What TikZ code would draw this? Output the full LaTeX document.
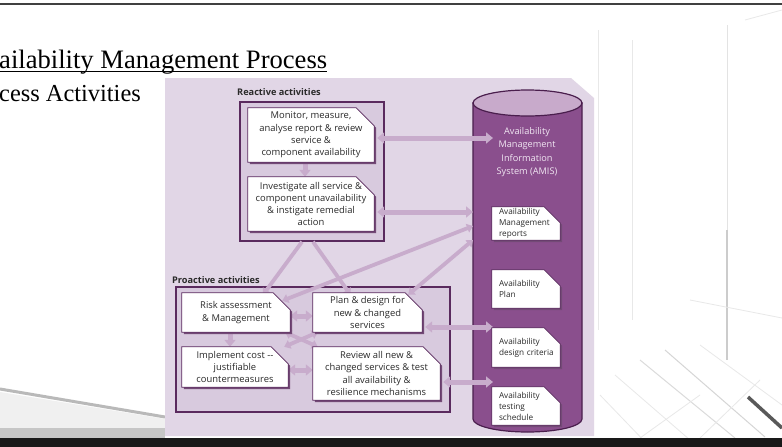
\documentclass[tikz,border=0pt]{standalone}
\usepackage{fontspec}
\setmainfont{Liberation Serif}
\newfontfamily\dsans{Open Sans}
\usetikzlibrary{arrows.meta,calc}
\hbadness=10000
\hfuzz=20pt
\pgfdeclarelayer{back}
\pgfdeclarelayer{mid}
\pgfdeclarelayer{arr}
\pgfdeclarelayer{boxl}
\pgfsetlayers{back,mid,arr,boxl,main}
\definecolor{panel}{HTML}{E1D6E6}
\definecolor{framein}{HTML}{D8CADE}
\definecolor{dpurp}{HTML}{5A2A5E}
\definecolor{dpurpd}{HTML}{4A1E4D}
\definecolor{cylc}{HTML}{8A4F8D}
\definecolor{cyltop}{HTML}{C8AACB}
\definecolor{arrc}{HTML}{C8ACCC}
\definecolor{amistext}{HTML}{F0E6F2}
\definecolor{txt}{HTML}{2A2A2A}
\newcommand\cutshape[2][16]{%
  \begin{pgfonlayer}{boxl}
    \fill[dpurp!85] ([shift={(2pt,-2pt)}]#2.south west) -- ([shift={(2pt,-2pt)}]#2.north west)
      -- ([shift={(2pt-#1pt,-2pt)}]#2.north east) -- ([shift={(2pt,-2pt-#1pt)}]#2.north east)
      -- ([shift={(2pt,-2pt)}]#2.south east) -- cycle;
    \draw[dpurp, fill=white, line width=0.7pt] (#2.south west) -- (#2.north west)
      -- ([xshift=-#1pt]#2.north east) -- ([yshift=-#1pt]#2.north east)
      -- (#2.south east) -- cycle;
  \end{pgfonlayer}}
\tikzset{
  bx/.style={draw=none, inner sep=0pt, align=center, text=txt,
    font=\dsans\fontsize{9.4}{12.3}\selectfont},
  doc/.style={draw=none, inner xsep=7pt, inner ysep=0pt, align=left, text width=54pt,
    minimum width=68pt, text=txt, font=\dsans\fontsize{8.2}{11}\selectfont},
  framebox/.style={draw=dpurp, fill=framein, line width=1.6pt, inner sep=0pt},
  lab/.style={anchor=west, inner sep=0pt, text=txt, font=\dsans\bfseries\fontsize{9.2}{10}\selectfont},
  fat/.style={draw=arrc, line width=5pt},
  thin/.style={draw=arrc, line width=3.8pt},
  hd/.tip={Triangle[width=11pt,length=7pt]},
  sh/.tip={Triangle[width=9pt,length=6pt]},
  decoline/.style={draw=gray!18, line width=0.8pt}
}
\begin{document}
\begin{tikzpicture}[x=1pt,y=-1pt]
\useasboundingbox (0,0) rectangle (782,447);
% ---------- slide background ----------
\begin{pgfonlayer}{back}
  \fill[white] (0,0) rectangle (782,447);
  \draw[decoline] (598,30) -- (598,330);
  \draw[decoline] (632,40) -- (632,320);
  \draw[draw=gray!22, line width=1pt] (727,25) -- (727,230);
  \draw[draw=gray!40, line width=1.6pt] (727,230) -- (727,360);
  \draw[decoline] (745,20) -- (782,10);
  \draw[decoline] (690,300) -- (782,318);
  \draw[decoline] (600,395) -- (650,447);
  \draw[decoline] (615,375) -- (690,440);
  \draw[draw=gray!28, line width=1pt] (640,360) -- (735,438);
  \draw[draw=gray!32, line width=1pt] (665,350) -- (765,437);
  \draw[decoline] (700,345) -- (782,405);
  \draw[decoline] (640,438) -- (700,395);
  \draw[decoline] (700,438) -- (760,380);
  \draw[draw=black!65, line width=3.5pt] (748,397) -- (782,428);
  \fill[gray!12] (0,392) -- (165,419) -- (165,438) -- (0,438) -- cycle;
  \draw[draw=gray!55, line width=3pt] (0,389) -- (165,417);
  \fill[gray!45] (0,428) rectangle (165,438);
  \draw[draw=black!75, line width=1.3pt] (0,4) -- (782,4);
  \fill[black!90] (0,438) rectangle (782,447);
  % panel
  \fill[panel] (165,78) -- (571,78) -- (594,98) -- (594,436) -- (165,436) -- cycle;
\end{pgfonlayer}
% ---------- title ----------
\node[anchor=base west, inner sep=0pt, font=\fontsize{26.6}{30}\selectfont] (title) at (-1,68) {ailability Management Process};
\draw[line width=1.2pt] ([yshift=-3.2pt]title.base west) -- ([yshift=-3.2pt]title.base east);
\node[anchor=base west, inner sep=0pt, font=\fontsize{24.4}{28}\selectfont] (sub) at (-1,101) {cess Activities};
% ---------- frames and cylinder ----------
\begin{pgfonlayer}{mid}
  \node[framebox, minimum width=144pt, minimum height=139pt] (react) at (312,171.5) {};
  \node[framebox, minimum width=274pt, minimum height=125pt] (proact) at (313,349.5) {};
  \draw[dpurpd, fill=cylc, line width=1.2pt] (473,103) -- (473,419)
     arc[start angle=180, end angle=360, x radius=54.5pt, y radius=13pt] -- (582,103) -- cycle;
  \draw[dpurpd, fill=cyltop, line width=1.2pt] (527.5,103) ellipse[x radius=54.5pt, y radius=13pt];
\end{pgfonlayer}
\node[lab] (rlab) at (237,92) {Reactive activities};
\node[lab] (plab) at (172,280) {Proactive activities};
\node[inner sep=0pt, align=center, text=amistext, font=\dsans\fontsize{9.2}{13.3}\selectfont] (amis) at (527,152)
  {Availability\\Management\\Information\\System (AMIS)};
% ---------- process boxes ----------
\node[bx, minimum width=126pt, minimum height=54pt] (mon) at (311,135)
  {Monitor, measure,\\analyse report \& review\\service \&\\component availability};
\node[bx, minimum width=126pt, minimum height=54pt] (inv) at (311,204)
  {Investigate all service \&\\component unavailability\\\& instigate remedial\\action};
\node[bx, minimum width=108pt, minimum height=39pt] (risk) at (236,312.5)
  {Risk assessment\\\& Management};
\node[bx, minimum width=109pt, minimum height=39pt] (plan) at (367.5,312.5)
  {Plan \& design for\\new \& changed\\services};
\node[bx, minimum width=106pt, minimum height=40pt] (impl) at (235,367)
  {Implement cost --\\justifiable\\countermeasures};
\node[bx, minimum width=127pt, minimum height=53pt] (rev) at (376.5,373.5)
  {Review all new \&\\changed services \& test\\all availability \&\\resilience mechanisms};
\cutshape[18]{mon}
\cutshape[18]{inv}
\cutshape[17]{risk}
\cutshape[17]{plan}
\cutshape[17]{impl}
\cutshape[17]{rev}
% ---------- documents ----------
\node[doc, minimum height=33pt] (drep) at (526,223.5) {Availability\\Management\\reports};
\node[doc, minimum height=38pt] (dplan) at (526,289) {Availability\\Plan};
\node[doc, minimum height=39pt] (dcrit) at (526,347.5) {Availability\\\mbox{design criteria}};
\node[doc, minimum height=38pt] (dtest) at (526,406) {Availability\\testing\\schedule};
\cutshape[16]{drep}
\cutshape[16]{dplan}
\cutshape[16]{dcrit}
\cutshape[16]{dtest}
% ---------- connectors ----------
\coordinate (c1) at (493,138);
\coordinate (c2) at (473,212);
\coordinate (c3) at (473,226);
\coordinate (c4) at (473,240);
\coordinate (c5) at (493,327);
\coordinate (c6) at (493,382);
\begin{pgfonlayer}{arr}
  \draw[fat, hd-hd] ([shift={(3pt,-3pt)}]mon.east) -- (c1);
  \draw[fat, hd-hd] ([shift={(3pt,-8pt)}]inv.east) -- (c2);
  \draw[thin, sh-sh] ([shift={(-8pt,-8pt)}]risk.north east) -- (c3);
  \draw[thin, sh-sh] ([shift={(-14pt,-2pt)}]plan.north east) -- (c4);
  \draw[thin, -sh] ([xshift=-10pt]react.south) -- ([shift={(27pt,-2pt)}]risk.north);
  \draw[thin, -sh] ([xshift=1pt]react.south) -- ([shift={(-17pt,-2pt)}]plan.north);
  \draw[fat, -hd] ([xshift=-6pt]mon.south) -- ([xshift=-6pt]inv.north);
  \draw[fat, -hd] ([xshift=-6pt]risk.south) -- ([xshift=-5pt]impl.north);
  \draw[fat, hd-hd] ([yshift=-3.5pt]risk.east) -- ([yshift=-3.5pt]risk.east -| plan.west);
  \draw[fat, hd-hd] ([yshift=-3pt]impl.east) -- ([yshift=-3pt]impl.east -| rev.west);
  \draw[thin, sh-sh] ([xshift=-5pt]risk.south east) -- ([xshift=5pt]rev.north west);
  \draw[thin, sh-sh] ([xshift=5pt]plan.south west) -- ([xshift=-4pt]impl.north east);
  \draw[fat, hd-hd] ([shift={(3pt,-14.5pt)}]plan.east) -- (c5);
  \draw[fat, hd-hd] ([shift={(3pt,-8.5pt)}]rev.east) -- (c6);
\end{pgfonlayer}
\end{tikzpicture}
\end{document}
